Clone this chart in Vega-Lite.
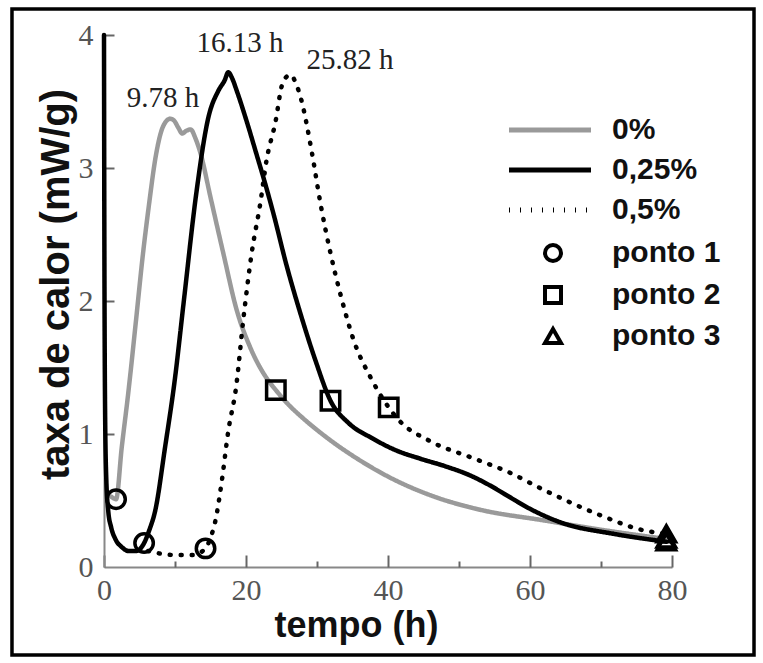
{
  "$schema": "https://vega.github.io/schema/vega-lite/v6.json",
  "width": 568,
  "height": 532,
  "autosize": {"type": "none"},
  "padding": {"left": 104, "top": 35, "right": 91, "bottom": 96},
  "background": "white",
  "config": {"view": {"stroke": null}, "axis": {"grid": false, "labelFont": "Liberation Serif", "labelFontSize": 30, "labelColor": "#555"}},
  "resolve": {"axis": {"x": "independent", "y": "independent"}},
  "datasets": {
    "frame": [{"x0": -12.96, "x1": 91.55, "y0": -0.662, "y1": 4.195}],
    "curves": [
      {"t": 1.0, "v": 0.53, "s": "0%"},
      {"t": 1.7, "v": 0.51, "s": "0%"},
      {"t": 2.5, "v": 0.9, "s": "0%"},
      {"t": 3.4, "v": 1.3, "s": "0%"},
      {"t": 4.5, "v": 1.85, "s": "0%"},
      {"t": 5.5, "v": 2.36, "s": "0%"},
      {"t": 6.4, "v": 2.75, "s": "0%"},
      {"t": 7.2, "v": 3.06, "s": "0%"},
      {"t": 8.3, "v": 3.31, "s": "0%"},
      {"t": 9.3, "v": 3.37, "s": "0%"},
      {"t": 9.8, "v": 3.36, "s": "0%"},
      {"t": 10.5, "v": 3.3, "s": "0%"},
      {"t": 11.0, "v": 3.26, "s": "0%"},
      {"t": 11.6, "v": 3.28, "s": "0%"},
      {"t": 12.2, "v": 3.29, "s": "0%"},
      {"t": 12.9, "v": 3.22, "s": "0%"},
      {"t": 13.6, "v": 3.11, "s": "0%"},
      {"t": 15.0, "v": 2.78, "s": "0%"},
      {"t": 16.8, "v": 2.36, "s": "0%"},
      {"t": 18.7, "v": 1.93, "s": "0%"},
      {"t": 20.6, "v": 1.65, "s": "0%"},
      {"t": 22.9, "v": 1.42, "s": "0%"},
      {"t": 24.2, "v": 1.33, "s": "0%"},
      {"t": 26.0, "v": 1.22, "s": "0%"},
      {"t": 28.0, "v": 1.12, "s": "0%"},
      {"t": 31.7, "v": 0.96, "s": "0%"},
      {"t": 35.5, "v": 0.82, "s": "0%"},
      {"t": 40.0, "v": 0.68, "s": "0%"},
      {"t": 47.0, "v": 0.52, "s": "0%"},
      {"t": 53.0, "v": 0.43, "s": "0%"},
      {"t": 62.0, "v": 0.35, "s": "0%"},
      {"t": 70.0, "v": 0.28, "s": "0%"},
      {"t": 79.2, "v": 0.21, "s": "0%"},
      {"t": 0.0, "v": 4.0, "s": "0,25%"},
      {"t": 0.05, "v": 2.5, "s": "0,25%"},
      {"t": 0.15, "v": 1.2, "s": "0,25%"},
      {"t": 0.3, "v": 0.7, "s": "0,25%"},
      {"t": 0.6, "v": 0.42, "s": "0,25%"},
      {"t": 1.0, "v": 0.3, "s": "0,25%"},
      {"t": 1.6, "v": 0.21, "s": "0,25%"},
      {"t": 2.5, "v": 0.15, "s": "0,25%"},
      {"t": 3.5, "v": 0.12, "s": "0,25%"},
      {"t": 4.5, "v": 0.12, "s": "0,25%"},
      {"t": 5.65, "v": 0.18, "s": "0,25%"},
      {"t": 6.4, "v": 0.28, "s": "0,25%"},
      {"t": 7.2, "v": 0.42, "s": "0,25%"},
      {"t": 8.6, "v": 0.9, "s": "0,25%"},
      {"t": 10.0, "v": 1.42, "s": "0,25%"},
      {"t": 11.2, "v": 1.98, "s": "0,25%"},
      {"t": 13.0, "v": 2.81, "s": "0,25%"},
      {"t": 14.7, "v": 3.38, "s": "0,25%"},
      {"t": 16.1, "v": 3.58, "s": "0,25%"},
      {"t": 17.0, "v": 3.66, "s": "0,25%"},
      {"t": 17.5, "v": 3.72, "s": "0,25%"},
      {"t": 18.0, "v": 3.68, "s": "0,25%"},
      {"t": 18.7, "v": 3.58, "s": "0,25%"},
      {"t": 20.1, "v": 3.35, "s": "0,25%"},
      {"t": 21.5, "v": 3.1, "s": "0,25%"},
      {"t": 22.5, "v": 2.92, "s": "0,25%"},
      {"t": 23.9, "v": 2.65, "s": "0,25%"},
      {"t": 25.7, "v": 2.27, "s": "0,25%"},
      {"t": 27.7, "v": 1.9, "s": "0,25%"},
      {"t": 29.8, "v": 1.55, "s": "0,25%"},
      {"t": 31.9, "v": 1.25, "s": "0,25%"},
      {"t": 34.5, "v": 1.08, "s": "0,25%"},
      {"t": 37.7, "v": 0.97, "s": "0,25%"},
      {"t": 41.0, "v": 0.88, "s": "0,25%"},
      {"t": 44.8, "v": 0.81, "s": "0,25%"},
      {"t": 48.2, "v": 0.755, "s": "0,25%"},
      {"t": 51.5, "v": 0.69, "s": "0,25%"},
      {"t": 54.3, "v": 0.615, "s": "0,25%"},
      {"t": 57.0, "v": 0.53, "s": "0,25%"},
      {"t": 59.9, "v": 0.44, "s": "0,25%"},
      {"t": 64.6, "v": 0.33, "s": "0,25%"},
      {"t": 71.7, "v": 0.25, "s": "0,25%"},
      {"t": 79.2, "v": 0.19, "s": "0,25%"},
      {"t": 6.2, "v": 0.12, "s": "0,5%"},
      {"t": 8.0, "v": 0.1, "s": "0,5%"},
      {"t": 10.0, "v": 0.09, "s": "0,5%"},
      {"t": 12.5, "v": 0.09, "s": "0,5%"},
      {"t": 14.3, "v": 0.14, "s": "0,5%"},
      {"t": 15.0, "v": 0.22, "s": "0,5%"},
      {"t": 15.7, "v": 0.35, "s": "0,5%"},
      {"t": 16.6, "v": 0.65, "s": "0,5%"},
      {"t": 17.5, "v": 1.02, "s": "0,5%"},
      {"t": 18.6, "v": 1.35, "s": "0,5%"},
      {"t": 19.6, "v": 1.85, "s": "0,5%"},
      {"t": 20.8, "v": 2.36, "s": "0,5%"},
      {"t": 22.0, "v": 2.73, "s": "0,5%"},
      {"t": 22.9, "v": 3.06, "s": "0,5%"},
      {"t": 24.2, "v": 3.36, "s": "0,5%"},
      {"t": 25.0, "v": 3.61, "s": "0,5%"},
      {"t": 25.8, "v": 3.69, "s": "0,5%"},
      {"t": 26.3, "v": 3.7, "s": "0,5%"},
      {"t": 27.0, "v": 3.64, "s": "0,5%"},
      {"t": 27.8, "v": 3.51, "s": "0,5%"},
      {"t": 29.3, "v": 3.11, "s": "0,5%"},
      {"t": 30.5, "v": 2.73, "s": "0,5%"},
      {"t": 31.9, "v": 2.36, "s": "0,5%"},
      {"t": 33.4, "v": 2.03, "s": "0,5%"},
      {"t": 35.2, "v": 1.7, "s": "0,5%"},
      {"t": 37.6, "v": 1.42, "s": "0,5%"},
      {"t": 40.1, "v": 1.2, "s": "0,5%"},
      {"t": 41.6, "v": 1.1, "s": "0,5%"},
      {"t": 45.8, "v": 0.95, "s": "0,5%"},
      {"t": 51.9, "v": 0.82, "s": "0,5%"},
      {"t": 56.7, "v": 0.72, "s": "0,5%"},
      {"t": 62.3, "v": 0.57, "s": "0,5%"},
      {"t": 69.4, "v": 0.4, "s": "0,5%"},
      {"t": 76.5, "v": 0.27, "s": "0,5%"},
      {"t": 79.2, "v": 0.25, "s": "0,5%"}
    ],
    "points": [
      {"t": 1.7, "v": 0.51, "ponto": "ponto 1"},
      {"t": 5.65, "v": 0.18, "ponto": "ponto 1"},
      {"t": 14.3, "v": 0.14, "ponto": "ponto 1"},
      {"t": 24.2, "v": 1.33, "ponto": "ponto 2"},
      {"t": 31.9, "v": 1.25, "ponto": "ponto 2"},
      {"t": 40.1, "v": 1.2, "ponto": "ponto 2"},
      {"t": 79.2, "v": 0.21, "ponto": "ponto 3"},
      {"t": 79.2, "v": 0.19, "ponto": "ponto 3"},
      {"t": 79.2, "v": 0.25, "ponto": "ponto 3"}
    ],
    "labels": [
      {"t": 8.31, "v": 3.53, "label": "9.78 h"},
      {"t": 19.15, "v": 3.94, "label": "16.13 h"},
      {"t": 34.65, "v": 3.81, "label": "25.82 h"}
    ]
  },
  "layer": [
    {
      "data": {"name": "curves"},
      "mark": {"type": "line", "strokeWidth": 4.5, "strokeCap": "round", "interpolate": "monotone"},
      "encoding": {
        "x": {
          "field": "t", "type": "quantitative",
          "scale": {"domain": [0, 80], "nice": false, "zero": false},
          "axis": {
            "orient": "bottom",
            "values": [0, 20, 40, 60, 80],
            "ticks": false,
            "domainColor": "#888", "domainWidth": 2,
            "labelFont": "Liberation Serif", "labelFontSize": 30, "labelColor": "#555",
            "labelPadding": 8, "labelFlush": false, "labelOverlap": false,
            "title": "tempo (h)",
            "titleFont": "Liberation Sans", "titleFontWeight": "bold", "titleFontSize": 36, "titleColor": "#111",
            "titleX": 252, "titleY": 58, "titleBaseline": "middle", "titleAlign": "center", "titleAnchor": null
          }
        },
        "y": {
          "field": "v", "type": "quantitative",
          "scale": {"domain": [0, 4], "nice": false, "zero": false},
          "axis": {
            "orient": "left",
            "values": [0, 1, 2, 3, 4],
            "format": "d",
            "ticks": false,
            "domainColor": "#888", "domainWidth": 2,
            "labelFont": "Liberation Serif", "labelFontSize": 30, "labelColor": "#555",
            "labelPadding": 11, "labelFlush": false, "labelOverlap": false,
            "title": "taxa de calor (mW/g)",
            "titleFont": "Liberation Sans", "titleFontWeight": "bold", "titleFontSize": 40, "titleColor": "#111",
            "titleX": -48, "titleY": 249, "titleBaseline": "middle", "titleAlign": "center", "titleAngle": 270, "titleAnchor": null
          }
        },
        "color": {
          "field": "s", "type": "nominal",
          "scale": {"domain": ["0%", "0,25%", "0,5%"], "range": ["#9a9a9a", "#000000", "#000000"]},
          "legend": {
            "orient": "none", "legendX": 431, "legendY": 80, "title": null, "padding": 0,
            "symbolType": "M-8.2,0H8.2", "symbolSize": 100, "symbolStrokeWidth": 5,
            "labelFont": "Liberation Sans", "labelFontWeight": "bold", "labelFontSize": 30, "labelColor": "#111",
            "labelOffset": 47, "rowPadding": 10, "labelLimit": 300
          }
        },
        "strokeDash": {
          "field": "s", "type": "nominal",
          "scale": {"domain": ["0%", "0,25%", "0,5%"], "range": [[1, 0], [1, 0], [1, 10]]},
          "legend": {
            "orient": "none", "legendX": 431, "legendY": 80, "title": null, "padding": 0,
            "symbolType": "M-8.2,0H8.2", "symbolSize": 100, "symbolStrokeWidth": 5,
            "labelFont": "Liberation Sans", "labelFontWeight": "bold", "labelFontSize": 30, "labelColor": "#111",
            "labelOffset": 47, "rowPadding": 10, "labelLimit": 300
          }
        }
      }
    },
    {
      "data": {"name": "points"},
      "mark": {"type": "point", "filled": false, "color": "#000", "opacity": 1, "strokeWidth": 3.5, "size": 340},
      "encoding": {
        "x": {
          "field": "t", "type": "quantitative",
          "axis": {
            "orient": "top", "offset": -532,
            "values": [10, 30, 50, 70],
            "tickSize": 6, "tickColor": "#666", "tickWidth": 2,
            "labels": false, "domain": false, "title": null
          }
        },
        "y": {"field": "v", "type": "quantitative", "axis": null},
        "shape": {
          "field": "ponto", "type": "nominal",
          "scale": {"domain": ["ponto 1", "ponto 2", "ponto 3"], "range": ["circle", "square", "triangle-up"]},
          "legend": {
            "orient": "none", "legendX": 434, "legendY": 203, "title": null, "padding": 0,
            "symbolSize": 256, "symbolStrokeWidth": 4, "symbolStrokeColor": "#000", "symbolOpacity": 1,
            "labelFont": "Liberation Sans", "labelFontWeight": "bold", "labelFontSize": 30, "labelColor": "#111",
            "labelOffset": 44, "rowPadding": 10, "labelLimit": 300
          }
        }
      }
    },
    {
      "data": {"name": "labels"},
      "mark": {"type": "text", "font": "Liberation Serif", "fontSize": 29, "color": "#222", "align": "center", "baseline": "middle"},
      "encoding": {
        "x": {"field": "t", "type": "quantitative", "axis": null},
        "y": {"field": "v", "type": "quantitative", "axis": null},
        "text": {"field": "label", "type": "nominal"}
      }
    },
    {
      "data": {"name": "frame"},
      "mark": {"type": "rect", "filled": false, "stroke": "#000", "strokeWidth": 3.5, "clip": false},
      "encoding": {
        "x": {
          "field": "x0", "type": "quantitative",
          "axis": {
            "orient": "top", "offset": -532,
            "values": [0, 20, 40, 60, 80],
            "tickSize": 12, "tickColor": "#666", "tickWidth": 2,
            "labels": false, "domain": false, "title": null
          }
        },
        "x2": {"field": "x1"},
        "y": {
          "field": "y0", "type": "quantitative",
          "axis": {
            "orient": "right", "offset": -568,
            "values": [1, 2, 3, 4],
            "tickSize": 10, "tickColor": "#666", "tickWidth": 2,
            "labels": false, "domain": false, "title": null
          }
        },
        "y2": {"field": "y1"}
      }
    }
  ]
}
